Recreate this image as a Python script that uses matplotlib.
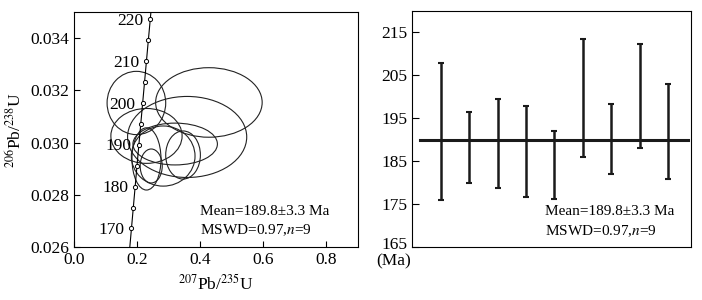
"""
U-Pb concordia diagram and weighted mean age plot.
"""
import numpy as np
import matplotlib
matplotlib.use("Agg")
import matplotlib.pyplot as plt
import matplotlib.transforms as mtransforms
from matplotlib.patches import Ellipse

plt.rcParams["font.family"] = ["Liberation Serif", "DejaVu Serif"]
plt.rcParams["mathtext.fontset"] = "stix"

# analysis ellipses (207Pb/235U, 206Pb/238U, half-axes)
ell_x = [0.198, 0.428, 0.359, 0.230, 0.321, 0.346, 0.283, 0.230, 0.245]
ell_y = [0.03152, 0.03154, 0.03022, 0.03026, 0.02995, 0.02953, 0.02949, 0.02938, 0.02911]
ell_rx = [0.093, 0.169, 0.189, 0.113, 0.134, 0.055, 0.101, 0.046, 0.035]
ell_ry = [0.00121, 0.00133, 0.00155, 0.00105, 0.00080, 0.00092, 0.00115, 0.00119, 0.00065]

# concordia age marks (Ma)
conc_ages = [170, 175, 180, 185, 190, 195, 200, 205, 210, 215, 220]
conc_labels = [170, 180, 190, 200, 210, 220]

# individual ages and errors (Ma)
ages = [191.8, 188.1, 189.0, 187.2, 184.0, 199.7, 190.1, 200.1, 191.9]
errs = [15.9, 8.2, 10.4, 10.6, 7.9, 13.8, 8.2, 12.2, 11.1]
mean_age = 189.8

l238 = 1.55125e-4   # per Ma
l235 = 9.8485e-4


def conc(t):
    t = np.asarray(t, dtype=float)
    return np.exp(l235 * t) - 1, np.exp(l238 * t) - 1


fig = plt.figure(figsize=(7.02, 3.0), dpi=100)

#concordia plot
ax1 = fig.add_axes([0.1054, 0.1757, 0.4041, 0.7843])
t = np.linspace(160, 230, 200)
cx, cy = conc(t)
ax1.plot(cx, cy, color="black", lw=0.8, zorder=3)
mx, my = conc(conc_ages)
ax1.plot(mx, my, "o", ms=3, mfc="white", mec="black", mew=0.7, zorder=4)
for a in conc_labels:
    px, py = conc(a)
    ax1.annotate(str(a), (px, py), xytext=(-5, -1), textcoords="offset points",
                 ha="right", va="center", fontsize=12.5)

for x, y, rx, ry in zip(ell_x, ell_y, ell_rx, ell_ry):
    ax1.add_patch(Ellipse((x, y), 2 * rx, 2 * ry, fill=False,
                          edgecolor="#222222", lw=0.8, zorder=2))

ax1.set_xlim(0, 0.9)
ax1.set_ylim(0.026, 0.035)
ax1.set_xticks([0.0, 0.2, 0.4, 0.6, 0.8])
ax1.set_xticklabels(["0.0", "0.2", "0.4", "0.6", "0.8"])
ax1.set_yticks([0.026, 0.028, 0.030, 0.032, 0.034])
ax1.set_yticklabels(["0.026", "0.028", "0.030", "0.032", "0.034"])
ax1.tick_params(direction="in", labelsize=12.5, length=4, width=0.8)
ax1.set_xlabel(r"$^{207}$Pb/$^{235}$U", fontsize=12.5)
ax1.set_ylabel(r"$^{206}$Pb/$^{238}$U", fontsize=12.5)
ax1.text(0.444, 0.15, "Mean=189.8±3.3 Ma", transform=ax1.transAxes,
         fontsize=11, va="center")
ax1.text(0.444, 0.0735, r"MSWD=0.97,$n$=9", transform=ax1.transAxes,
         fontsize=11, va="center")

#weighted mean plot
ax2 = fig.add_axes([0.5873, 0.1777, 0.397, 0.7866])
ind = np.arange(1, len(ages) + 1)
ax2.errorbar(ind, ages, yerr=errs, fmt="none", ecolor="#1a1a1a",
             elinewidth=1.8, capsize=2, capthick=1.5, zorder=3)
ax2.plot([0.27, 9.7], [mean_age, mean_age], color="#1a1a1a", lw=2.2, zorder=2)
ax2.set_xlim(0, 9.8)
ax2.set_ylim(165, 220)
ax2.set_xticks([])
ax2.set_yticks([165, 175, 185, 195, 205, 215])
ax2.tick_params(direction="in", labelsize=12.5, length=5, width=0.8)
# lift the bottom tick label a little, as in the original
lbl = ax2.get_yticklabels()[0]
lbl.set_transform(lbl.get_transform() +
                  mtransforms.ScaledTranslation(0, 4 / 100, fig.dpi_scale_trans))
ax2.text(-0.068, -0.062, "(Ma)", transform=ax2.transAxes, fontsize=12.5,
         ha="center", va="center")
ax2.text(0.476, 0.151, "Mean=189.8±3.3 Ma", transform=ax2.transAxes,
         fontsize=11, va="center")
ax2.text(0.476, 0.0665, r"MSWD=0.97,$n$=9", transform=ax2.transAxes,
         fontsize=11, va="center")

for ax in (ax1, ax2):
    for s in ax.spines.values():
        s.set_linewidth(0.8)

fig.savefig("out.png", dpi=100)
